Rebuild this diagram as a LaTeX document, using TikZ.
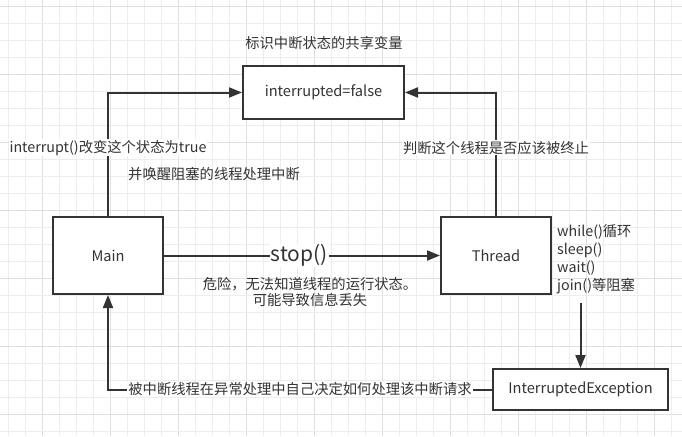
\documentclass[tikz,border=0pt]{standalone}
\usepackage{fontspec}
\setmainfont{Noto Sans CJK SC}
\usetikzlibrary{arrows.meta}
\definecolor{ink}{HTML}{333333}
\definecolor{gridminor}{HTML}{EDEDED}
\definecolor{gridmajor}{HTML}{DFDFDF}
\begin{document}
\begin{tikzpicture}[x=1pt,y=-1pt,
  box/.style={draw=ink, line width=2pt, fill=white, text=ink,
    font=\fontsize{14.6}{16}\selectfont, inner sep=0pt},
  conn/.style={draw=ink, line width=2pt, -{Triangle[length=13pt,width=10pt]}},
  lbl/.style={text=ink, font=\fontsize{14.3}{16}\selectfont, inner sep=1pt},
  whitelbl/.style={lbl, fill=white},
  biglbl/.style={text=ink, font=\fontsize{21}{24}\selectfont, fill=white, inner sep=1pt}]
\useasboundingbox (0,0) rectangle (682,436);
\fill[white] (0,0) rectangle (682,436);
% grid
\foreach \k in {0,...,40}{
  \pgfmathsetmacro{\xx}{8.3+17*\k}
  \pgfmathtruncatemacro{\mm}{mod(\k,4)}
  \ifnum\mm=2 \draw[gridmajor, line width=1pt] (\xx,0) -- (\xx,436);
  \else \draw[gridminor, line width=1pt] (\xx,0) -- (\xx,436); \fi
}
\foreach \k in {0,...,25}{
  \pgfmathsetmacro{\yy}{6.3+17*\k}
  \pgfmathtruncatemacro{\mm}{mod(\k,4)}
  \ifnum\mm=0 \draw[gridmajor, line width=1pt] (0,\yy) -- (682,\yy);
  \else \draw[gridminor, line width=1pt] (0,\yy) -- (682,\yy); \fi
}
% boxes
\node[box, minimum width=161pt, minimum height=53pt] (top) at (323.5,92.5) {interrupted=false};
\node[box, minimum width=110pt, minimum height=77pt] (main) at (108,255.5) {Main};
\node[box, minimum width=110pt, minimum height=77pt] (thread) at (496,255.5) {Thread};
\node[box, minimum width=175pt, minimum height=41pt] (exc) at (580.5,389.5) {InterruptedException};
% texts
\node[lbl] (title) at (324,43) {标识中断状态的共享变量};
\node[lbl] (wake) at (214,174) {并唤醒阻塞的线程处理中断};
\node[lbl, align=center, font=\fontsize{14.3}{16}\selectfont] (danger) at (310,292) {危险，无法知道线程的运行状态。\\可能导致信息丢失};
\node[lbl, align=left, anchor=north west, font=\fontsize{14.3}{18}\selectfont] (block) at (556,223) {while()循环\\sleep()\\wait()\\join()等阻塞};
\coordinate (dstart) at (580.5,303);
% connectors
\draw[conn] (main.north) |- (top.west) node[pos=0.277, whitelbl] {interrupt()改变这个状态为true};
\draw[conn] (thread.north) |- (top.east) node[pos=0.277, whitelbl] {判断这个线程是否应该被终止};
\draw[conn] (main.east) -- (thread.west) node[pos=0.49, biglbl] {stop()};
\draw[conn] (dstart) -- (exc.north);
\draw[conn] (exc.west) -| (main.south) node[pos=0.25, whitelbl] {被中断线程在异常处理中自己决定如何处理该中断请求};
\end{tikzpicture}
\end{document}
